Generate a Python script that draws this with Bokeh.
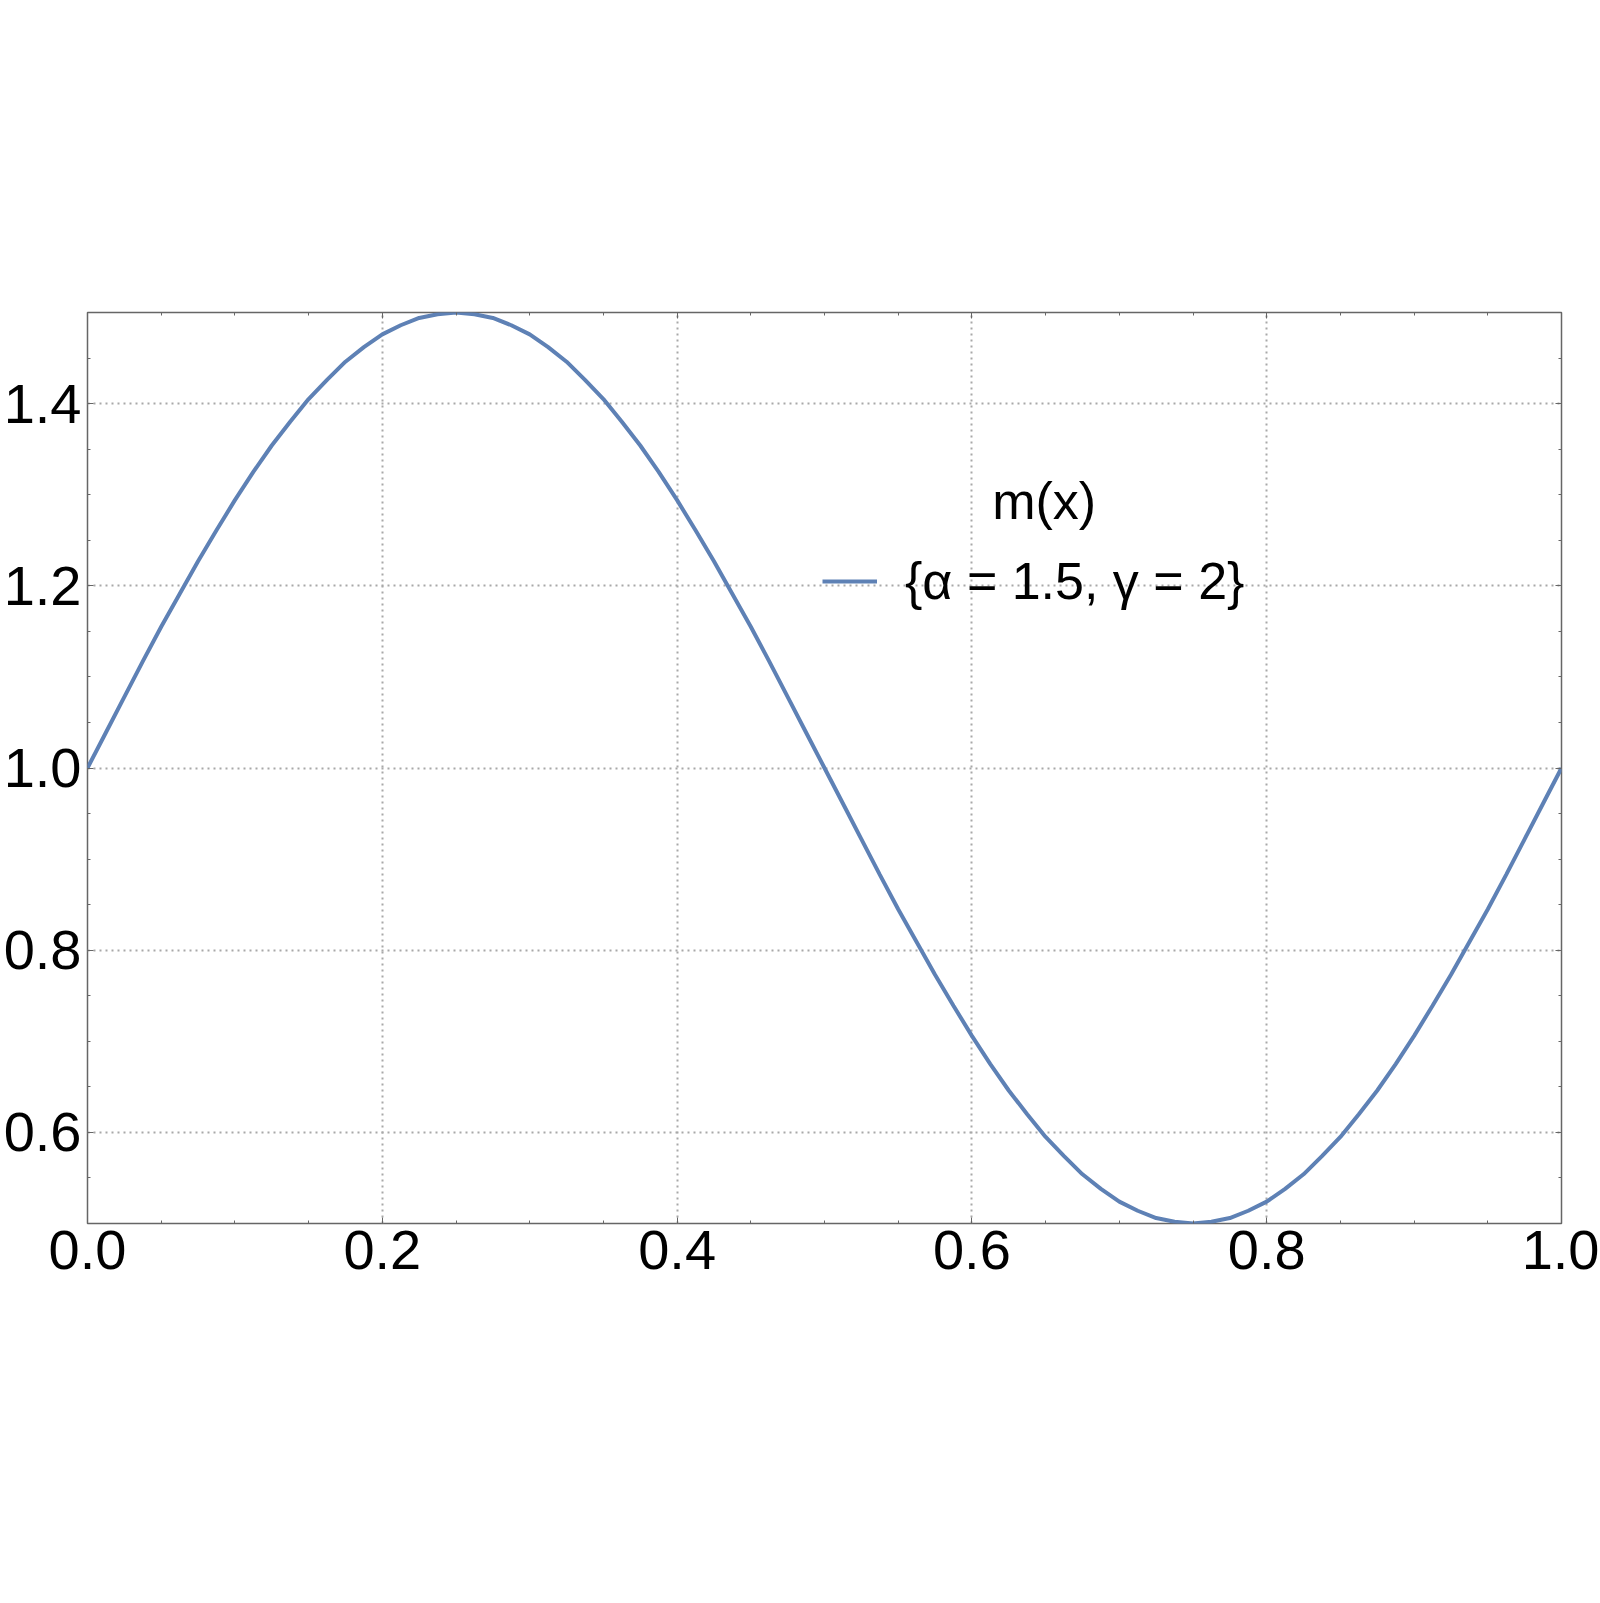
from bokeh.plotting import figure
from bokeh.models import Range1d, FixedTicker, LinearAxis, Legend, LegendItem, Label
from bokeh.embed import file_html
from bokeh.resources import INLINE

# ---- data ----
x_vals = [0.0, 0.0125, 0.025, 0.0375, 0.05, 0.0625, 0.075, 0.0875, 0.1, 0.1125,
          0.125, 0.1375, 0.15, 0.1625, 0.175, 0.1875, 0.2, 0.2125, 0.225, 0.2375,
          0.25, 0.2625, 0.275, 0.2875, 0.3, 0.3125, 0.325, 0.3375, 0.35, 0.3625,
          0.375, 0.3875, 0.4, 0.4125, 0.425, 0.4375, 0.45, 0.4625, 0.475, 0.4875,
          0.5, 0.5125, 0.525, 0.5375, 0.55, 0.5625, 0.575, 0.5875, 0.6, 0.6125,
          0.625, 0.6375, 0.65, 0.6625, 0.675, 0.6875, 0.7, 0.7125, 0.725, 0.7375,
          0.75, 0.7625, 0.775, 0.7875, 0.8, 0.8125, 0.825, 0.8375, 0.85, 0.8625,
          0.875, 0.8875, 0.9, 0.9125, 0.925, 0.9375, 0.95, 0.9625, 0.975, 0.9875,
          1.0]
m_vals = [1.000, 1.039, 1.078, 1.117, 1.155, 1.191, 1.227, 1.261, 1.294, 1.325,
          1.354, 1.380, 1.405, 1.426, 1.446, 1.462, 1.476, 1.486, 1.494, 1.498,
          1.500, 1.498, 1.494, 1.486, 1.476, 1.462, 1.446, 1.426, 1.405, 1.380,
          1.354, 1.325, 1.294, 1.261, 1.227, 1.191, 1.155, 1.117, 1.078, 1.039,
          1.000, 0.961, 0.922, 0.883, 0.845, 0.809, 0.773, 0.739, 0.706, 0.675,
          0.646, 0.620, 0.595, 0.574, 0.554, 0.538, 0.524, 0.514, 0.506, 0.502,
          0.500, 0.502, 0.506, 0.514, 0.524, 0.538, 0.554, 0.574, 0.595, 0.620,
          0.646, 0.675, 0.706, 0.739, 0.773, 0.809, 0.845, 0.883, 0.922, 0.961,
          1.000]

x_ticks = [0.0, 0.2, 0.4, 0.6, 0.8, 1.0]
x_tick_labels = ["0.0", "0.2", "0.4", "0.6", "0.8", "1.0"]
x_minor = [0.0, 0.05, 0.1, 0.15, 0.2, 0.25, 0.3, 0.35, 0.4, 0.45, 0.5,
           0.55, 0.6, 0.65, 0.7, 0.75, 0.8, 0.85, 0.9, 0.95, 1.0]
y_ticks = [0.6, 0.8, 1.0, 1.2, 1.4]
y_tick_labels = ["0.6", "0.8", "1.0", "1.2", "1.4"]
y_minor = [0.5, 0.55, 0.6, 0.65, 0.7, 0.75, 0.8, 0.85, 0.9, 0.95, 1.0,
           1.05, 1.1, 1.15, 1.2, 1.25, 1.3, 1.35, 1.4, 1.45, 1.5]

legend_title = "m(x)"
series_label = "{α = 1.5, γ = 2}"

LINE_COLOR = "#5E81B5"
FRAME_COLOR = "#666666"
FONT = "Liberation Sans"

p = figure(frame_width=1474, frame_height=911,
           x_range=Range1d(0, 1), y_range=Range1d(0.5, 1.5),
           output_backend="svg", toolbar_location=None,
           min_border_top=312, min_border_right=38, min_border_bottom=80,
           min_border_left=0)

p.outline_line_color = FRAME_COLOR
p.outline_line_width = 1.5
p.background_fill_color = "white"

def style_axis(ax, ticks, minor, show_labels, overrides=None):
    ax.ticker = FixedTicker(ticks=ticks, minor_ticks=minor)
    ax.axis_line_color = None
    ax.major_tick_in = 6
    ax.major_tick_out = 0
    ax.minor_tick_in = 3
    ax.minor_tick_out = 0
    ax.major_tick_line_color = FRAME_COLOR
    ax.minor_tick_line_color = FRAME_COLOR
    ax.major_tick_line_width = 1
    ax.minor_tick_line_width = 1
    if show_labels:
        ax.major_label_text_font = FONT
        ax.major_label_text_font_size = "56px"
        ax.major_label_text_color = "black"
        if overrides:
            ax.major_label_overrides = overrides
    else:
        ax.major_label_text_color = None
        ax.major_label_text_alpha = 0
        ax.major_label_text_font_size = "1px"
        ax.major_label_standoff = 0

style_axis(p.xaxis[0], x_ticks, x_minor, True, dict(zip(x_ticks, x_tick_labels)))
p.xaxis[0].major_label_standoff = 7
style_axis(p.yaxis[0], y_ticks, y_minor, True, dict(zip(y_ticks, y_tick_labels)))
p.yaxis[0].major_label_standoff = 6

top_ax = LinearAxis()
style_axis(top_ax, x_ticks, x_minor, False)
p.add_layout(top_ax, "above")
right_ax = LinearAxis()
style_axis(right_ax, y_ticks, y_minor, False)
p.add_layout(right_ax, "right")

p.xgrid.ticker = FixedTicker(ticks=x_ticks[1:-1])
p.ygrid.ticker = FixedTicker(ticks=y_ticks)
for g in (p.xgrid[0], p.ygrid[0]):
    g.grid_line_color = "#a8a8a8"
    g.grid_line_width = 2
    g.grid_line_dash = "2 4"

r = p.line(x_vals, m_vals, line_color=LINE_COLOR, line_width=4)

legend = Legend(items=[LegendItem(label=series_label, renderers=[r])],
                location=(735, 612), glyph_width=55, glyph_height=20,
                label_standoff=28, label_text_font=FONT,
                label_text_font_size="52px", label_text_color="black",
                border_line_color=None, background_fill_alpha=0,
                padding=0, margin=0, spacing=0)
p.add_layout(legend)

p.add_layout(Label(x=0.649, y=1.2936, text=legend_title, text_align="center",
                   text_baseline="middle", text_font=FONT,
                   text_font_size="52px", text_color="black"))

open("out.html", "w").write(file_html(p, INLINE))
